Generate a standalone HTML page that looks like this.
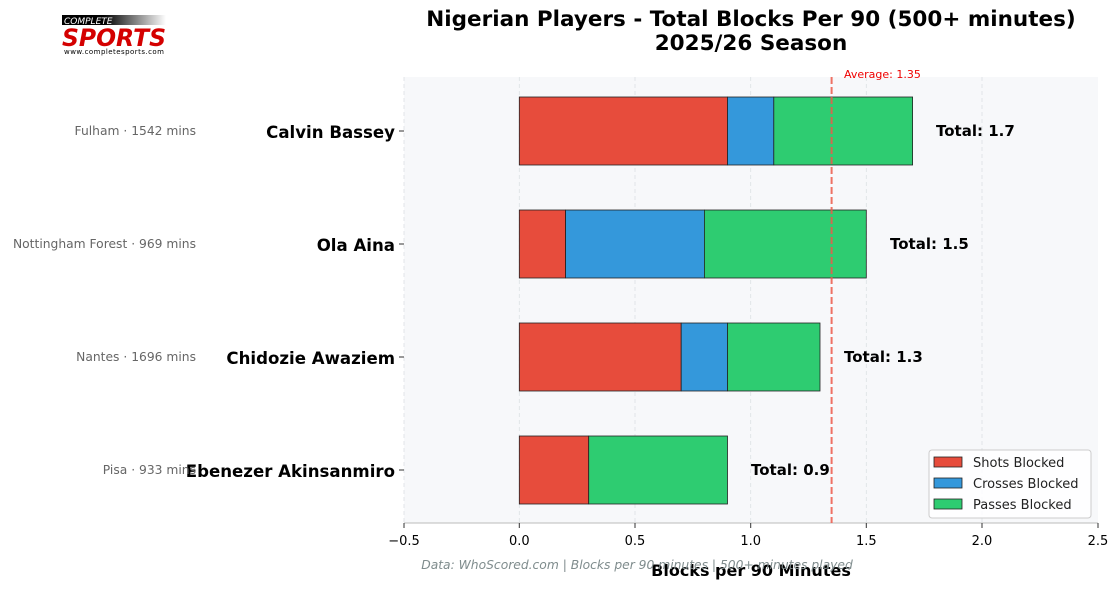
<!DOCTYPE html><html><head><style>body{margin:0;background:#fff}svg{display:block;font-family:"DejaVu Sans","Liberation Sans",sans-serif}</style></head><body>
<svg width="1119" height="590" xmlns="http://www.w3.org/2000/svg">
<rect x="404" y="77" width="694" height="446" fill="#f7f8fa"/>
<g stroke="#dde0e4" stroke-dasharray="4,3" stroke-width="0.8">
<line x1="404" y1="77" x2="404" y2="523"/><line x1="519.3" y1="77" x2="519.3" y2="523"/><line x1="635" y1="77" x2="635" y2="523"/><line x1="750.7" y1="77" x2="750.7" y2="523"/><line x1="866.3" y1="77" x2="866.3" y2="523"/><line x1="982" y1="77" x2="982" y2="523"/></g>
<line x1="404" y1="523" x2="1098" y2="523" stroke="#bbb" stroke-width="1"/>
<g stroke="#222" stroke-width="0.8">
<rect x="519.3" y="97" width="208.2" height="68" fill="#e74c3c"/><rect x="727.5" y="97" width="46.3" height="68" fill="#3498db"/><rect x="773.8" y="97" width="138.8" height="68" fill="#2ecc71"/>
<rect x="519.3" y="210" width="46.3" height="68" fill="#e74c3c"/><rect x="565.6" y="210" width="138.8" height="68" fill="#3498db"/><rect x="704.4" y="210" width="161.9" height="68" fill="#2ecc71"/>
<rect x="519.3" y="323" width="161.9" height="68" fill="#e74c3c"/><rect x="681.2" y="323" width="46.3" height="68" fill="#3498db"/><rect x="727.5" y="323" width="92.5" height="68" fill="#2ecc71"/>
<rect x="519.3" y="436" width="69.4" height="68" fill="#e74c3c"/><rect x="588.7" y="436" width="138.8" height="68" fill="#2ecc71"/>
</g>
<line x1="831.6" y1="77" x2="831.6" y2="523" stroke="#ee5a4a" stroke-width="2" stroke-dasharray="7,3" opacity="0.85"/>
<text x="844" y="78" font-size="11" fill="#e00">Average: 1.35</text>
<g font-size="15" font-weight="bold" fill="#000">
<text x="936" y="136">Total: 1.7</text><text x="890" y="249">Total: 1.5</text><text x="844" y="362">Total: 1.3</text><text x="751" y="475">Total: 0.9</text></g>
<g stroke="#333"><line x1="399" y1="131" x2="404" y2="131"/><line x1="399" y1="244" x2="404" y2="244"/><line x1="399" y1="357" x2="404" y2="357"/><line x1="399" y1="470" x2="404" y2="470"/>
<line x1="404" y1="523" x2="404" y2="528"/><line x1="519.3" y1="523" x2="519.3" y2="528"/><line x1="635" y1="523" x2="635" y2="528"/><line x1="750.7" y1="523" x2="750.7" y2="528"/><line x1="866.3" y1="523" x2="866.3" y2="528"/><line x1="982" y1="523" x2="982" y2="528"/><line x1="1098" y1="523" x2="1098" y2="528"/></g>
<g font-size="16.6" font-weight="bold" text-anchor="end" fill="#000">
<text x="395" y="138">Calvin Bassey</text><text x="395" y="251">Ola Aina</text><text x="395" y="364">Chidozie Awaziem</text><text x="395" y="477">Ebenezer Akinsanmiro</text></g>
<g font-size="12.3" text-anchor="end" fill="#666">
<text x="196" y="135">Fulham · 1542 mins</text><text x="196" y="248">Nottingham Forest · 969 mins</text><text x="196" y="361">Nantes · 1696 mins</text><text x="196" y="474">Pisa · 933 mins</text></g>
<g font-size="13" text-anchor="middle" fill="#000">
<text x="404" y="545">−0.5</text><text x="519.3" y="545">0.0</text><text x="635" y="545">0.5</text><text x="750.7" y="545">1.0</text><text x="866.3" y="545">1.5</text><text x="982" y="545">2.0</text><text x="1098" y="545">2.5</text></g>
<text x="751" y="576" font-size="16" font-weight="bold" text-anchor="middle">Blocks per 90 Minutes</text>
<text x="637" y="569" font-size="12.3" font-style="italic" fill="#7f8c8d" text-anchor="middle">Data: WhoScored.com | Blocks per 90 minutes | 500+ minutes played</text>
<g font-size="21.5" font-weight="bold" text-anchor="middle"><text x="751" y="26">Nigerian Players - Total Blocks Per 90 (500+ minutes)</text><text x="751" y="50">2025/26 Season</text></g>
<rect x="929" y="450" width="162" height="68" rx="3" fill="#fff" fill-opacity="0.85" stroke="#ccc"/>
<g stroke="#222" stroke-width="0.8"><rect x="934" y="457" width="28" height="10" fill="#e74c3c"/><rect x="934" y="478" width="28" height="10" fill="#3498db"/><rect x="934" y="499" width="28" height="10" fill="#2ecc71"/></g>
<g font-size="13" fill="#222"><text x="973" y="467">Shots Blocked</text><text x="973" y="488">Crosses Blocked</text><text x="973" y="509">Passes Blocked</text></g>
<defs><linearGradient id="g" x1="0" x2="1"><stop offset="0.4" stop-color="#000"/><stop offset="1" stop-color="#fff"/></linearGradient></defs>
<rect x="62" y="15" width="104" height="10" fill="url(#g)"/>
<text x="64" y="24" font-size="9" font-style="italic" fill="#fff">COMPLETE</text>
<text x="62" y="46" font-size="24" font-weight="bold" font-style="italic" fill="#d40000" textLength="104" lengthAdjust="spacingAndGlyphs">SPORTS</text>
<text x="64" y="54" font-size="7" fill="#000" textLength="100">www.completesports.com</text>
</svg></body></html>
